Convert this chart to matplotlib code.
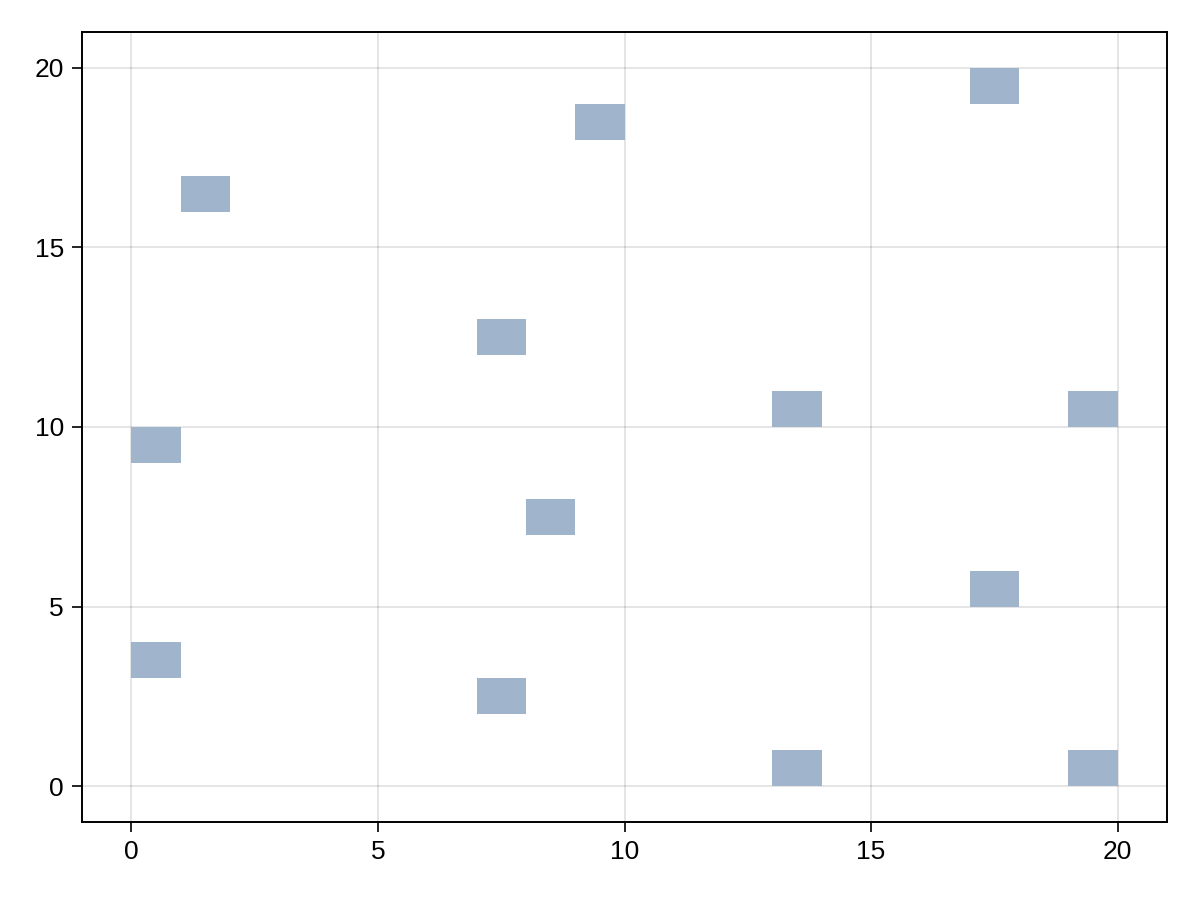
import matplotlib.pyplot as plt

# lower-left corners of the 1x1 cells
cell_x = [0, 0, 1, 7, 7, 8, 9, 13, 13, 17, 17, 19, 19]
cell_y = [3, 9, 16, 2, 12, 7, 18, 0, 10, 5, 19, 0, 10]
ticks = [0, 5, 10, 15, 20]

plt.rcParams['font.family'] = ['Liberation Sans', 'DejaVu Sans']

fig = plt.figure(figsize=(12, 9), dpi=100)
ax = fig.add_axes([82 / 1200, 78 / 900, (1167 - 82) / 1200, (822 - 32) / 900])

ax.bar(cell_x, 1, width=1, bottom=cell_y, align='edge', color='#a0b5cc', linewidth=0, zorder=2)

ax.set_xlim(-1, 21)
ax.set_ylim(-1, 21)
ax.set_xticks(ticks)
ax.set_yticks(ticks)
ax.grid(True, color='black', alpha=0.12, linewidth=1.2, zorder=0)
ax.set_axisbelow(True)
ax.tick_params(direction='out', length=7, width=1.2, labelsize=19, pad=6)
for s in ax.spines.values():
    s.set_linewidth(1.4)

fig.savefig('out.png', dpi=100)
